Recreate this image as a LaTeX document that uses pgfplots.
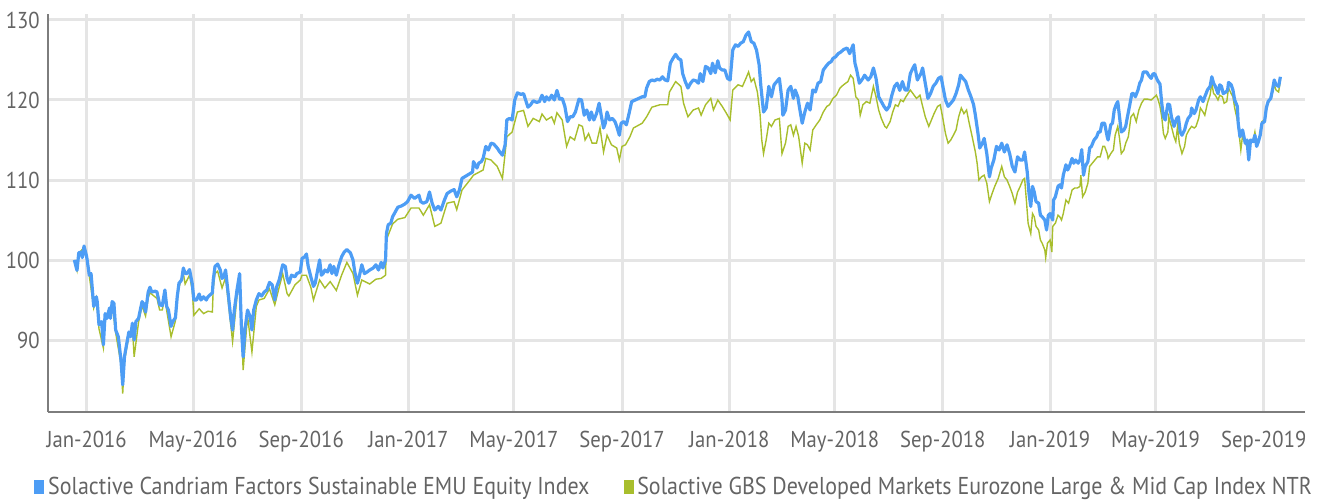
\documentclass[border=0pt]{standalone}
\usepackage{fontspec}
\setmainfont{PT Sans}[FakeStretch=0.9]
\usepackage{pgfplots}
\pgfplotsset{compat=1.18}
\definecolor{cblue}{RGB}{77,157,245}
\definecolor{cgreen}{RGB}{168,190,45}
\definecolor{cgrid}{RGB}{229,229,229}
\definecolor{caxis}{RGB}{125,125,125}
\definecolor{ctext}{RGB}{100,100,100}
\pgfplotstableread{
d v
-14 100.0
-11 98.7
-9 100.9
-6 101.0
-5 100.3
-3 101.75
0 100.4
3 98.1
5 98.3
8 94.2
11 95.4
12 94.8
14 91.9
17 92.3
19 89.4
21 93.3
23 92.7
26 94.0
27 92.7
29 94.8
31 94.6
33 91.25
36 90.4
39 87.5
41 84.4
43 87.9
45 89.2
48 91.0
50 90.4
52 92.1
54 90.0
56 92.3
59 92.7
63 94.8
65 94.5
67 93.5
70 96.0
72 96.6
74 96.0
78 96.1
80 96.0
83 94.4
86 94.3
89 96.25
91 94.2
93 93.75
96 91.7
98 92.3
101 92.8
103 95.4
105 97.1
108 97.5
110 99.0
112 98.3
114 98.3
117 98.8
120 97.1
122 95.0
125 95.0
128 95.75
130 95.0
133 95.4
136 95.0
138 95.4
140 95.6
143 95.9
144 97.5
146 99.2
149 99.5
152 98.75
154 97.7
156 97.9
158 98.75
161 95.8
164 92.7
166 91.25
168 93.75
171 96.25
174 98.3
176 91.7
178 87.9
180 91.25
183 93.75
186 92.9
188 91.25
190 93.75
193 95.0
196 95.8
199 95.5
202 96.0
205 96.25
208 97.2
211 96.9
214 95.0
216 96.6
219 97.5
223 99.4
226 99.2
228 97.7
230 97.1
233 98.1
237 97.9
239 98.3
243 98.5
245 100.2
248 100.4
250 100.75
252 99.2
255 97.9
258 96.7
260 97.1
262 98.3
265 100.0
267 98.1
269 98.3
271 98.75
274 98.5
277 99.4
279 98.3
281 99.2
284 98.1
287 99.4
290 100.4
293 101.0
296 101.3
300 100.9
303 100.0
305 98.5
308 97.1
310 97.9
313 99.4
316 98.3
319 98.5
322 98.75
326 99.0
329 99.4
332 98.75
335 99.7
337 99.0
340 100.0
341 103.3
343 104.4
346 104.6
348 105.4
351 106.0
354 106.6
358 106.75
362 107.0
365 107.3
369 108.1
373 107.7
378 108.1
380 107.3
383 107.1
387 107.3
390 108.5
393 107.1
396 106.25
400 106.7
403 106.25
407 107.5
410 108.3
414 108.6
418 108.8
421 107.9
424 108.75
427 110.2
430 110.4
433 110.6
436 110.8
439 111.0
440 112.3
444 111.5
446 112.1
449 112.3
451 112.7
454 114.2
457 113.75
460 114.6
463 114.5
467 114.0
470 113.5
473 113.1
476 114.4
478 117.5
481 117.7
484 117.5
487 120.0
490 120.9
494 120.7
497 120.8
502 119.1
505 119.4
508 119.9
512 119.7
515 119.8
518 120.6
521 119.8
523 120.4
526 120.0
529 120.6
532 120.0
535 121.2
538 120.1
541 120.2
544 119.2
547 117.3
550 117.9
553 117.9
556 118.5
560 120.1
563 120.0
566 118.1
569 118.75
572 117.5
574 118.5
577 117.5
580 118.3
583 119.6
585 118.3
588 116.5
590 117.1
592 118.5
595 117.5
598 117.7
601 117.3
603 116.7
606 115.6
608 117.1
611 117.3
614 116.9
617 118.3
620 119.8
624 120.0
628 120.2
632 120.4
635 120.4
637 121.5
640 122.3
643 122.5
646 122.4
649 122.6
652 122.5
655 122.9
658 122.5
661 122.4
664 124.6
667 125.2
670 125.7
673 125.2
676 125.0
678 123.3
681 122.3
684 121.5
687 122.1
690 122.5
693 122.4
696 122.1
698 123.3
701 122.3
704 124.2
707 124.0
710 123.3
712 124.6
715 123.4
718 124.9
720 124.0
723 123.75
726 123.75
729 122.7
732 122.5
735 126.25
738 126.9
741 126.7
744 127.1
747 127.3
750 128.1
753 128.5
756 127.3
759 127.1
762 126.25
765 124.4
767 121.7
770 118.5
773 119.0
776 121.7
779 120.4
782 121.9
785 122.3
788 122.7
791 120.0
792 118.1
795 118.75
798 121.25
801 121.7
804 120.2
806 121.25
809 120.4
811 119.0
814 117.1
817 118.5
820 119.6
823 118.75
826 121.25
829 121.0
832 122.1
835 122.3
838 123.75
841 124.2
844 124.6
847 124.8
849 125.2
852 125.4
855 125.8
858 126.0
861 126.3
865 126.5
868 125.8
872 126.9
874 124.6
876 123.75
879 122.1
883 122.7
885 123.1
889 122.5
892 122.9
895 124.0
898 122.7
901 120.4
904 119.8
907 119.2
910 118.75
913 119.2
916 120.6
919 121.7
922 122.1
925 121.2
928 122.3
931 121.25
934 121.25
937 123.3
940 124.0
942 124.4
945 122.5
949 123.3
951 124.0
954 122.1
957 120.2
960 120.8
963 121.7
966 122.1
969 122.7
972 122.9
974 121.7
977 120.0
980 119.2
983 119.6
986 120.0
989 120.8
992 121.9
994 123.1
997 122.7
1000 122.3
1003 121.25
1006 120.4
1009 119.4
1011 118.1
1014 115.8
1016 114.0
1019 114.6
1021 115.2
1024 113.3
1027 110.4
1029 111.5
1032 112.5
1035 114.2
1038 113.75
1041 114.6
1044 113.5
1047 114.4
1050 113.3
1053 111.7
1056 111.0
1059 112.9
1062 112.5
1065 112.5
1067 113.5
1070 111.0
1072 108.3
1074 106.7
1076 109.2
1078 108.5
1080 107.3
1083 107.1
1085 105.6
1087 105.4
1090 105.0
1092 103.75
1094 105.6
1096 105.8
1099 105.0
1100 107.5
1102 107.9
1105 109.2
1107 109.4
1109 109.0
1111 110.6
1114 111.9
1116 111.25
1118 111.7
1121 112.7
1123 112.1
1125 112.5
1128 112.1
1130 112.5
1132 113.8
1134 110.6
1136 111.7
1139 112.3
1141 114.0
1143 114.2
1146 115.0
1149 115.4
1151 116.0
1153 116.0
1155 117.1
1158 117.1
1161 115.4
1162 115.0
1165 116.9
1167 117.1
1169 118.75
1171 119.4
1173 119.8
1175 117.9
1177 116.0
1180 116.25
1182 116.7
1184 117.9
1187 119.6
1189 120.8
1191 120.8
1193 120.4
1196 121.25
1198 122.1
1200 122.5
1202 123.5
1206 123.5
1208 123.1
1211 122.7
1213 123.25
1215 123.3
1218 122.5
1221 122.0
1223 119.6
1225 117.9
1227 117.5
1230 119.5
1232 119.4
1234 117.9
1237 116.7
1240 117.7
1242 117.9
1244 116.0
1246 115.6
1249 116.25
1251 117.1
1253 117.7
1256 118.1
1257 119.0
1260 118.3
1262 118.75
1265 120.0
1267 120.4
1270 119.8
1272 120.4
1275 121.25
1278 121.7
1280 122.9
1282 122.1
1284 121.7
1287 120.8
1289 121.9
1291 121.7
1293 120.8
1296 121.0
1298 121.25
1299 122.2
1302 121.9
1304 121.25
1306 120.0
1309 119.2
1310 117.1
1312 115.4
1315 116.25
1318 114.6
1320 115.0
1322 112.5
1324 115.0
1327 114.8
1329 115.6
1331 114.2
1333 114.8
1335 115.6
1337 117.1
1340 117.3
1342 119.0
1344 119.8
1347 120.2
1349 121.25
1351 122.5
1353 121.9
1356 121.7
1358 122.9
}\bluedata
\pgfplotstableread{
d v
-14 100.0
-11 98.7
-9 100.8
-3 101.6
0 100.3
3 98.0
8 94.0
11 95.2
14 91.4
19 89.0
21 93.0
26 93.7
29 94.5
33 90.9
39 87.0
41 83.3
43 87.4
48 90.5
52 91.6
54 87.9
59 92.2
63 94.3
67 93.0
70 95.3
72 95.9
80 95.2
83 93.75
86 93.75
89 95.6
91 93.7
96 90.4
101 92.4
103 94.9
105 96.6
110 98.3
112 97.0
117 98.1
120 96.3
122 93.1
128 93.9
133 93.3
138 93.6
143 93.5
144 96.5
146 98.3
149 98.6
154 96.5
158 97.8
161 94.8
166 89.8
171 95.4
174 97.5
178 86.25
183 93.0
188 88.5
193 94.2
196 95.0
202 95.2
208 96.4
214 94.4
219 96.6
223 98.3
228 95.8
230 95.5
237 96.9
243 97.5
245 98.1
250 98.1
255 96.6
258 95.0
265 97.5
271 96.5
277 97.3
284 96.2
290 98.1
296 99.7
303 98.3
308 95.6
313 97.5
322 97.0
329 97.6
335 97.7
340 98.1
341 102.5
343 103.1
348 104.5
354 105.1
362 105.3
369 106.5
378 106.5
383 105.6
390 106.9
396 104.2
403 104.6
410 107.1
418 107.3
421 106.3
427 108.75
436 110.0
440 110.6
451 111.25
454 112.7
460 112.5
467 111.7
473 110.2
478 115.4
484 116.0
490 118.5
497 118.7
502 116.7
508 117.7
515 117.3
518 118.25
523 117.5
529 117.9
532 117.1
535 118.4
541 117.5
546 114.2
550 115.4
555 115.0
560 116.9
564 116.7
567 115.0
571 115.8
575 114.6
580 114.6
584 116.5
588 113.5
592 115.6
597 114.4
603 114.0
606 112.5
609 114.2
613 114.4
618 115.4
622 116.5
632 117.1
637 117.9
643 119.1
652 119.4
661 119.4
663 121.0
670 122.3
676 121.7
679 119.6
684 117.9
690 118.75
696 119.0
699 118.1
704 119.4
710 120.2
713 118.75
718 120.0
723 119.2
728 118.3
732 117.5
735 121.25
741 121.9
746 121.7
750 122.7
753 123.5
756 122.3
759 122.7
763 121.0
766 118.3
768 115.0
770 113.3
773 115.0
776 117.1
779 116.7
783 117.5
788 117.7
791 113.3
795 114.6
798 116.7
801 116.9
804 115.6
807 116.7
810 115.4
814 112.1
817 114.6
820 114.4
823 113.75
826 116.25
830 116.9
834 117.5
838 118.5
842 119.2
845 119.4
849 120.2
853 120.6
857 121.5
861 121.9
866 122.3
869 123.1
872 122.7
875 120.4
878 120.0
880 118.1
883 119.4
887 119.8
891 119.6
895 121.7
898 120.4
901 118.75
904 117.7
908 116.7
910 116.5
914 117.3
917 118.5
920 119.4
923 119.2
926 120.0
929 119.8
932 120.4
937 121.25
940 120.8
944 120.2
948 120.6
951 119.2
954 117.9
958 116.7
961 117.5
964 118.3
968 119.2
971 119.4
974 117.7
977 115.8
980 114.6
983 115.0
986 115.6
989 116.25
992 117.9
995 119.0
998 118.3
1001 118.75
1004 117.1
1007 115.6
1011 113.5
1013 112.1
1015 110.0
1018 110.4
1021 110.6
1024 109.6
1027 107.3
1030 108.3
1033 109.2
1037 110.2
1041 111.7
1044 110.4
1047 110.0
1050 109.2
1053 108.3
1056 107.1
1059 108.5
1062 109.2
1065 110.0
1067 110.2
1069 107.5
1071 104.6
1074 103.3
1076 105.8
1078 105.4
1080 104.2
1083 103.75
1085 102.5
1087 102.1
1090 101.25
1091 100.3
1093 102.1
1096 102.5
1098 101.0
1099 104.2
1102 104.6
1105 105.6
1107 105.4
1109 105.0
1111 105.8
1114 107.5
1117 107.1
1119 107.9
1121 108.75
1124 109.0
1127 109.0
1130 109.2
1131 110.6
1133 107.9
1136 108.5
1139 109.6
1141 111.7
1144 112.1
1147 112.5
1150 112.9
1153 112.9
1156 114.2
1158 114.2
1161 113.3
1162 112.7
1165 113.3
1168 113.75
1170 115.6
1173 116.7
1175 115.2
1177 113.3
1180 113.75
1182 114.6
1185 115.4
1188 117.9
1191 118.3
1194 117.3
1197 118.75
1200 119.6
1203 120.1
1207 120.1
1211 120.0
1215 120.4
1217 120.6
1219 120.0
1221 119.2
1223 117.9
1225 115.8
1227 115.2
1230 116.0
1231 117.9
1234 116.7
1237 115.4
1239 114.8
1241 116.7
1243 114.6
1246 113.3
1249 114.2
1251 115.6
1254 116.25
1257 116.7
1260 116.5
1262 116.7
1265 117.7
1267 119.0
1270 118.5
1272 118.1
1275 119.6
1278 120.6
1280 122.1
1282 120.8
1284 120.6
1287 120.0
1289 120.6
1292 120.4
1294 119.6
1297 119.8
1299 121.5
1302 120.8
1304 120.4
1306 119.0
1309 117.5
1311 115.8
1313 113.75
1315 115.6
1318 114.6
1322 113.75
1324 115.0
1327 115.0
1329 116.0
1331 114.6
1334 115.2
1337 117.3
1340 117.5
1342 119.0
1344 119.6
1348 120.4
1351 121.9
1353 121.25
1356 121.0
1358 122.5
}\greendata
\begin{document}
\begin{tikzpicture}
\begin{axis}[
  name=ax,
  scale only axis,
  width=628.5pt, height=199pt,
  xmin=-44, xmax=1386, ymin=81, ymax=130.75,
  axis x line*=bottom, axis y line*=left,
  axis line style={draw=caxis, line width=1.1pt, -},
  xtick={0,121,244,366,486,609,731,851,974,1096,1216,1339},
  xticklabels={Jan-2016,May-2016,Sep-2016,Jan-2017,May-2017,Sep-2017,Jan-2018,May-2018,Sep-2018,Jan-2019,May-2019,Sep-2019},
  ytick={90,100,110,120,130},
  yticklabels={90,100,110,120,130},
  major tick length=0pt,
  grid=major,
  major grid style={draw=cgrid, line width=1.5pt},
  /pgf/number format/assume math mode=true,
  tick label style={font=\fontsize{11.5}{13}\selectfont, text=ctext, inner sep=0pt},
  xticklabel shift=9.5pt,
  yticklabel shift=4pt,
  legend columns=2,
  legend cell align=left,
  legend style={at={(0,0)}, anchor=west, xshift=-7pt, yshift=-37.5pt,
    draw=none, fill=none, inner sep=0pt,
    font=\fontsize{12.2}{14}\selectfont, text=ctext,
    nodes={inner sep=1pt},
    /tikz/every odd column/.append style={column sep=1pt},
    /tikz/every even column/.append style={column sep=16pt}},
  legend image code/.code={\fill[#1] (0pt,-3pt) rectangle (4.5pt,3.5pt);},
]
\addlegendimage{cblue, fill=cblue}
\addlegendentry{Solactive Candriam Factors Sustainable EMU Equity Index}
\addlegendimage{cgreen, fill=cgreen}
\addlegendentry{Solactive GBS Developed Markets Eurozone Large \& Mid Cap Index NTR}
\addplot[cgreen, line width=0.7pt, forget plot] table[x=d, y=v] {\greendata};
\addplot[cblue, line width=1.6pt, line join=round, forget plot] table[x=d, y=v] {\bluedata};
\end{axis}
\pgfresetboundingbox
\path[use as bounding box] ([xshift=-24pt,yshift=-44pt]ax.south west) rectangle ([xshift=6pt,yshift=7pt]ax.north east);
\end{tikzpicture}
\end{document}
